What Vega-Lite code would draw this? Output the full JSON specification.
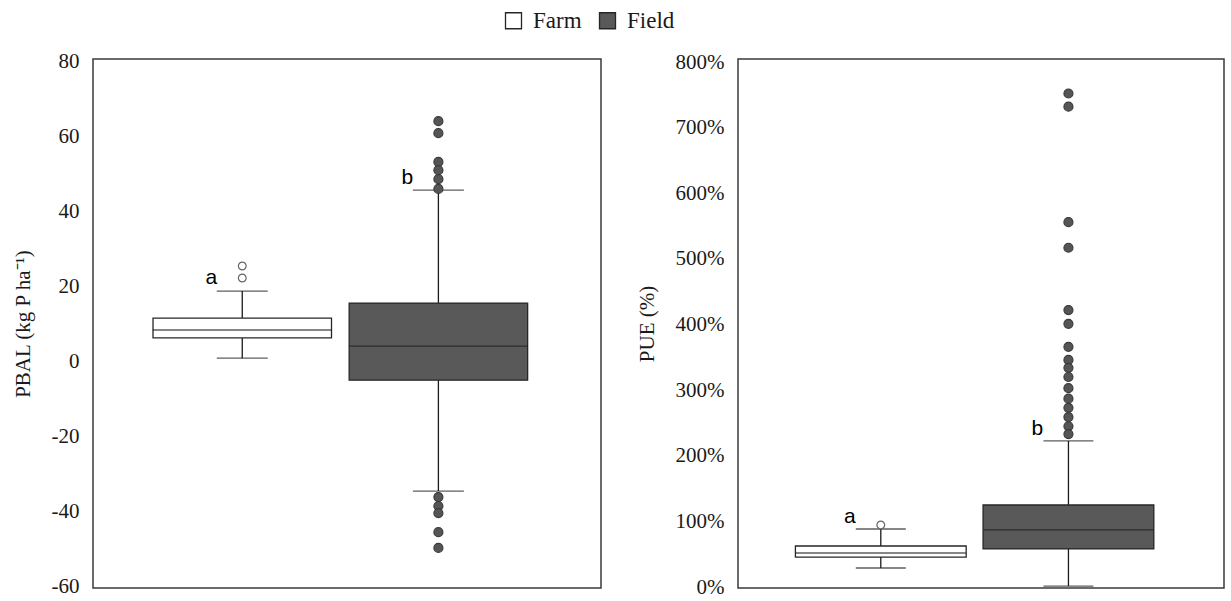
{
  "$schema": "https://vega.github.io/schema/vega-lite/v6.json",
  "background": "white",
  "padding": {"left": 11, "top": 9, "right": 5, "bottom": 5},
  "datasets": {
    "pbal_stats": [
      {"group": "Farm", "lower": 0.9, "q1": 6.3, "median": 8.4, "q3": 11.6, "upper": 18.8},
      {"group": "Field", "lower": -34.6, "q1": -5.0, "median": 4.1, "q3": 15.6, "upper": 45.8}
    ],
    "pbal_outliers": [
      {"group": "Farm", "value": 25.5},
      {"group": "Farm", "value": 22.3},
      {"group": "Field", "value": 64.2},
      {"group": "Field", "value": 61.0},
      {"group": "Field", "value": 53.3},
      {"group": "Field", "value": 51.1},
      {"group": "Field", "value": 48.7},
      {"group": "Field", "value": 46.1},
      {"group": "Field", "value": -36.2},
      {"group": "Field", "value": -38.6},
      {"group": "Field", "value": -40.5},
      {"group": "Field", "value": -45.6},
      {"group": "Field", "value": -49.8}
    ],
    "pbal_letters": [
      {"group": "Farm", "value": 20.7, "letter": "a"},
      {"group": "Field", "value": 47.4, "letter": "b"}
    ],
    "pue_stats": [
      {"group": "Farm", "lower": 0.29, "q1": 0.457, "median": 0.518, "q3": 0.625, "upper": 0.884},
      {"group": "Field", "lower": 0.015, "q1": 0.58, "median": 0.87, "q3": 1.25, "upper": 2.226}
    ],
    "pue_outliers": [
      {"group": "Farm", "value": 0.945},
      {"group": "Field", "value": 7.52},
      {"group": "Field", "value": 7.32},
      {"group": "Field", "value": 5.56},
      {"group": "Field", "value": 5.17},
      {"group": "Field", "value": 4.22},
      {"group": "Field", "value": 4.01},
      {"group": "Field", "value": 3.66},
      {"group": "Field", "value": 3.46},
      {"group": "Field", "value": 3.34},
      {"group": "Field", "value": 3.20},
      {"group": "Field", "value": 3.03},
      {"group": "Field", "value": 2.87},
      {"group": "Field", "value": 2.73},
      {"group": "Field", "value": 2.59},
      {"group": "Field", "value": 2.45},
      {"group": "Field", "value": 2.33}
    ],
    "pue_letters": [
      {"group": "Farm", "value": 0.976, "letter": "a"},
      {"group": "Field", "value": 2.317, "letter": "b"}
    ]
  },
  "hconcat": [
    {
      "width": 508,
      "height": 529,
      "encoding": {
        "x": {
          "field": "group", "type": "nominal", "axis": null,
          "scale": {"domain": ["Farm", "Field"], "paddingInner": 0.09, "paddingOuter": 0.34, "align": 0.45}
        }
      },
      "layer": [
        {
          "data": {"name": "pbal_stats"},
          "mark": {"type": "rule", "color": "#1a1a1a", "strokeWidth": 1.3},
          "encoding": {
            "y": {"field": "lower", "type": "quantitative",
                  "scale": {"domain": [-60.5, 80.8], "nice": false, "zero": false},
                  "axis": {"title": "PBAL (kg P ha⁻¹)", "values": [-60, -40, -20, 0, 20, 40, 60, 80],
                           "labelExpr": "replace(datum.label, '−', '-')"}},
            "y2": {"field": "upper"}
          }
        },
        {
          "data": {"name": "pbal_stats"},
          "mark": {"type": "tick", "color": "#1a1a1a", "size": 51, "thickness": 1.3, "orient": "horizontal"},
          "encoding": {"y": {"field": "upper", "type": "quantitative"}}
        },
        {
          "data": {"name": "pbal_stats"},
          "mark": {"type": "tick", "color": "#1a1a1a", "size": 51, "thickness": 1.3, "orient": "horizontal"},
          "encoding": {"y": {"field": "lower", "type": "quantitative"}}
        },
        {
          "data": {"name": "pbal_stats"},
          "mark": {"type": "bar", "stroke": "#262626", "strokeWidth": 1.3},
          "encoding": {
            "y": {"field": "q1", "type": "quantitative"},
            "y2": {"field": "q3"},
            "fill": {"field": "group", "type": "nominal", "title": null,
                     "scale": {"domain": ["Farm", "Field"], "range": ["#ffffff", "#595959"]}}
          }
        },
        {
          "data": {"name": "pbal_stats"},
          "mark": {"type": "tick", "color": "#1a1a1a", "size": 179, "thickness": 1.4, "orient": "horizontal"},
          "encoding": {"y": {"field": "median", "type": "quantitative"}}
        },
        {
          "data": {"name": "pbal_outliers"},
          "mark": {"type": "point", "shape": "circle", "filled": true, "strokeWidth": 1.2, "opacity": 1},
          "encoding": {
            "y": {"field": "value", "type": "quantitative"},
            "size": {"condition": {"test": "datum.group === 'Farm'", "value": 60}, "value": 81},
            "fill": {"condition": {"test": "datum.group === 'Farm'", "value": "#ffffff"}, "value": "#555555"},
            "stroke": {"condition": {"test": "datum.group === 'Farm'", "value": "#666666"}, "value": "#3a3a3a"}
          }
        },
        {
          "data": {"name": "pbal_letters"},
          "mark": {"type": "text", "font": "Liberation Sans", "fontSize": 21, "color": "#000000", "baseline": "alphabetic", "dx": -31},
          "encoding": {
            "y": {"field": "value", "type": "quantitative"},
            "text": {"field": "letter"}
          }
        }
      ]
    },
    {
      "width": 486,
      "height": 529,
      "encoding": {
        "x": {
          "field": "group", "type": "nominal", "axis": null,
          "scale": {"domain": ["Farm", "Field"], "paddingInner": 0.09, "paddingOuter": 0.34, "align": 0.45}
        }
      },
      "layer": [
        {
          "data": {"name": "pue_stats"},
          "mark": {"type": "rule", "color": "#1a1a1a", "strokeWidth": 1.3},
          "encoding": {
            "y": {"field": "lower", "type": "quantitative",
                  "scale": {"domain": [-0.015, 8.046], "nice": false, "zero": false},
                  "axis": {"title": "PUE (%)", "format": ".0%", "values": [0, 1, 2, 3, 4, 5, 6, 7, 8]}},
            "y2": {"field": "upper"}
          }
        },
        {
          "data": {"name": "pue_stats"},
          "mark": {"type": "tick", "color": "#1a1a1a", "size": 50, "thickness": 1.3, "orient": "horizontal"},
          "encoding": {"y": {"field": "upper", "type": "quantitative"}}
        },
        {
          "data": {"name": "pue_stats"},
          "mark": {"type": "tick", "color": "#1a1a1a", "size": 50, "thickness": 1.3, "orient": "horizontal"},
          "encoding": {"y": {"field": "lower", "type": "quantitative"}}
        },
        {
          "data": {"name": "pue_stats"},
          "mark": {"type": "bar", "stroke": "#262626", "strokeWidth": 1.3},
          "encoding": {
            "y": {"field": "q1", "type": "quantitative"},
            "y2": {"field": "q3"},
            "fill": {"field": "group", "type": "nominal", "title": null}
          }
        },
        {
          "data": {"name": "pue_stats"},
          "mark": {"type": "tick", "color": "#1a1a1a", "size": 170, "thickness": 1.4, "orient": "horizontal"},
          "encoding": {"y": {"field": "median", "type": "quantitative"}}
        },
        {
          "data": {"name": "pue_outliers"},
          "mark": {"type": "point", "shape": "circle", "filled": true, "strokeWidth": 1.2, "opacity": 1},
          "encoding": {
            "y": {"field": "value", "type": "quantitative"},
            "size": {"condition": {"test": "datum.group === 'Farm'", "value": 60}, "value": 81},
            "fill": {"condition": {"test": "datum.group === 'Farm'", "value": "#ffffff"}, "value": "#555555"},
            "stroke": {"condition": {"test": "datum.group === 'Farm'", "value": "#666666"}, "value": "#3a3a3a"}
          }
        },
        {
          "data": {"name": "pue_letters"},
          "mark": {"type": "text", "font": "Liberation Sans", "fontSize": 21, "color": "#000000", "baseline": "alphabetic", "dx": -31},
          "encoding": {
            "y": {"field": "value", "type": "quantitative"},
            "text": {"field": "letter"}
          }
        }
      ]
    }
  ],
  "spacing": 33,
  "config": {
    "view": {"stroke": "#3a3a3a", "strokeWidth": 1.5},
    "axisY": {
      "grid": false, "ticks": false, "domain": false,
      "labelFont": "Liberation Serif", "labelFontSize": 21, "labelColor": "#1a1a1a", "labelPadding": 14,
      "titleFont": "Liberation Serif", "titleFontSize": 21, "titleFontWeight": "normal", "titleColor": "#1a1a1a", "titlePadding": 18
    },
    "legend": {
      "orient": "none", "legendX": 409, "legendY": -50, "direction": "horizontal",
      "symbolType": "square", "symbolSize": 256, "symbolStrokeColor": "#262626", "symbolStrokeWidth": 1.3,
      "labelFont": "Liberation Serif", "labelFontSize": 23, "labelColor": "#1a1a1a", "columnPadding": 14, "symbolOffset": 0, "labelOffset": 8
    }
  }
}
